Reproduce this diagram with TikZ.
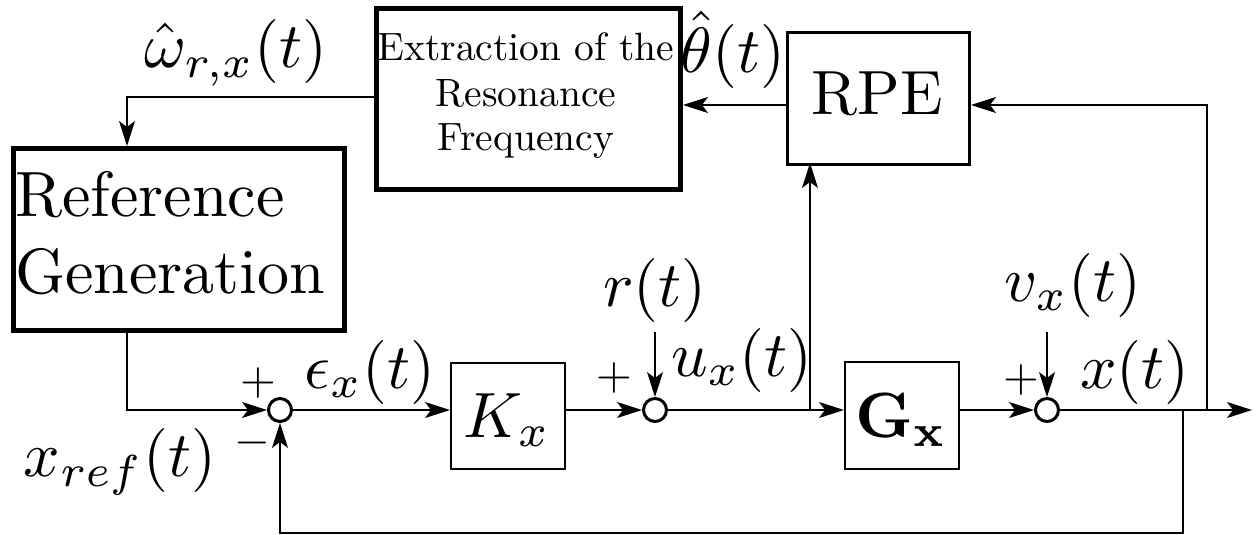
\documentclass[tikz,border=0pt]{standalone}
\usepackage{graphicx}
\usetikzlibrary{arrows.meta}
\newcommand\BT[1]{\scalebox{6.4}{#1}}
\newcommand\ST[1]{\scalebox{4.6}{#1}}
\newcommand\ET[1]{\scalebox{3.95}{#1}}
\begin{document}
\begin{tikzpicture}[x=1pt,y=-1pt,
  lbl/.style={inner sep=0pt},
  conn/.style={line width=1.6pt,-{Stealth[length=25pt,width=16pt,inset=6pt]}},
  sumc/.style={circle,draw,line width=3pt,minimum size=23pt,inner sep=0pt},
  thickbox/.style={draw,line width=5pt,inner sep=0pt},
  medbox/.style={draw,line width=3pt,inner sep=0pt},
  thinbox/.style={draw,line width=2pt,inner sep=0pt}]
\useasboundingbox (0,0) rectangle (1258,535);
% boxes
\node[thickbox,minimum width=304pt,minimum height=181pt,anchor=north west] (ext) at (374,6) {};
\node[lbl,anchor=base] at (526,61) {\ET{Extraction of the}};
\node[lbl,anchor=base] at (526,106) {\ET{Resonance}};
\node[lbl,anchor=base] at (526,150) {\ET{Frequency}};
\node[medbox,minimum width=182pt,minimum height=132pt,anchor=north west] (rpe) at (786,31) {};
\node[lbl,anchor=base] at (877,114) {\scalebox{6.25}{RPE}};
\node[thickbox,minimum width=331pt,minimum height=182pt,anchor=north west] (ref) at (11,146) {};
\node[lbl,anchor=base west] at (15,216) {\BT{Reference}};
\node[lbl,anchor=base west] at (15,293) {\BT{Generation}};
\node[thinbox,minimum width=114pt,minimum height=106pt,anchor=north west] (kx) at (450,362) {};
\node[lbl] at (507,420) {\BT{$K_x$}};
\node[thinbox,minimum width=114pt,minimum height=107pt,anchor=north west] (gx) at (844,361) {};
\node[lbl] at (901,420) {\BT{$\mathbf{G_x}$}};
% sums
\node[sumc] (s1) at (280,410) {};
\node[sumc] (s2) at (655,410) {};
\node[sumc] (s3) at (1047,410) {};
% coordinates
\coordinate (out) at (1252,410);
\coordinate (rin) at (655,332);
\coordinate (vin) at (1047,332);
% connectors
\draw[conn] (ext.west |- 0,97) -| (127,146);
\draw[conn] (127,328) |- (s1.west);
\draw[conn] (s1.east) -- (s1.east -| kx.west);
\draw[conn] (s2.west -| kx.east) -- (s2.west);
\draw[conn] (s2.east) -- (s2.east -| gx.west);
\draw[conn] (s3.west -| gx.east) -- (s3.west);
\draw[conn] (s3.east) -- (out);
\draw[conn] (rin) -- (s2.north);
\draw[conn] (vin) -- (s3.north);
\draw[conn] (810,410) -- (810,163);
\draw[conn] (1207,410) |- (rpe.east |- 0,105);
\draw[conn] (rpe.west |- 0,105) -- (ext.east |- 0,105);
\draw[conn] (1183,410) |- (280,533) -- (s1.south);
% labels
\node[lbl] at (236,53) {\BT{$\hat\omega_{r,x}(t)$}};
\node[lbl] at (733,50) {\BT{$\hat\theta(t)$}};
\node[lbl] at (370,372) {\BT{$\epsilon_x(t)$}};
\node[lbl] at (742,360) {\BT{$u_x(t)$}};
\node[lbl] at (1135,372) {\BT{$x(t)$}};
\node[lbl] at (120,462) {\BT{$x_{ref}(t)$}};
\node[lbl] at (655,290) {\BT{$r(t)$}};
\node[lbl] at (1073,285) {\BT{$v_x(t)$}};
\node[lbl] at (258,383) {\ST{$+$}};
\node[lbl] at (252,443) {\ST{$-$}};
\node[lbl] at (614,378) {\ST{$+$}};
\node[lbl] at (1021,380) {\ST{$+$}};
\end{tikzpicture}
\end{document}
